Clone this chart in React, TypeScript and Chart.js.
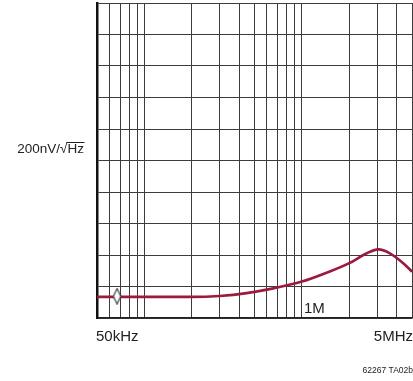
import React, { useEffect, useRef } from "react";
import { Chart, registerables } from "chart.js";

Chart.register(...registerables);

// Frequencies (Hz) and noise density (nV/√Hz)
const FREQ = [50e3, 100e3, 150e3, 200e3, 300e3, 446e3, 658e3, 1e6, 1.44e6, 2e6, 2.58e6, 3.06e6, 3.62e6, 4.4e6, 5e6];
const NOISE = [134, 134, 134, 134, 140, 158, 188, 231, 288, 348, 411, 436, 411, 348, 294];

// Marker (diamond) position
const MARKER_FREQ = [67e3];
const MARKER_NOISE = [138];

// Grid lines
const X_GRID = [
  50e3, 60e3, 70e3, 80e3, 90e3,
  100e3, 200e3, 300e3, 400e3, 500e3, 600e3, 700e3, 800e3, 900e3,
  1e6, 2e6, 3e6, 4e6, 5e6,
];
const Y_GRID = [0, 200, 400, 600, 800, 1000, 1200, 1400, 1600, 1800, 2000];

// Labels
const X_LABEL_LEFT = "50kHz";
const X_LABEL_RIGHT = "5MHz";
const X_LABEL_MID = "1M";
const X_LABEL_MID_VALUE = 1e6;
const Y_LABEL_MAIN = "200nV/√";
const Y_LABEL_ROOT = "Hz";
const FOOTNOTE = "62267 TA02b";

const FONT = '"Liberation Sans", Arial, sans-serif';

export default function App() {
  const ref = useRef<HTMLCanvasElement | null>(null);

  useEffect(() => {
    const canvas = ref.current;
    if (!canvas) return;

    const diamond = document.createElement("canvas");
    diamond.width = 9;
    diamond.height = 17;
    const dctx = diamond.getContext("2d")!;
    dctx.beginPath();
    dctx.moveTo(4.5, 0.8);
    dctx.lineTo(8.2, 8.5);
    dctx.lineTo(4.5, 16.2);
    dctx.lineTo(0.8, 8.5);
    dctx.closePath();
    dctx.fillStyle = "#ffffff";
    dctx.fill();
    dctx.strokeStyle = "#333333";
    dctx.lineWidth = 1.1;
    dctx.stroke();

    const textPlugin = {
      id: "texts",
      afterDraw(chart: any) {
        const ctx = chart.ctx;
        const xs = chart.scales.x;
        ctx.save();
        ctx.fillStyle = "#222";
        ctx.textBaseline = "alphabetic";

        // x labels
        ctx.font = `15px ${FONT}`;
        ctx.textAlign = "left";
        ctx.fillText(X_LABEL_LEFT, xs.getPixelForValue(FREQ[0]) - 1, 341);
        ctx.textAlign = "right";
        ctx.fillText(X_LABEL_RIGHT, xs.getPixelForValue(FREQ[FREQ.length - 1]) + 1, 341);

        // 1M label inside
        ctx.textAlign = "left";
        ctx.fillText(X_LABEL_MID, xs.getPixelForValue(X_LABEL_MID_VALUE) + 2, 313);

        // y label
        ctx.font = `13.5px ${FONT}`;
        const mainW = ctx.measureText(Y_LABEL_MAIN).width;
        const rootW = ctx.measureText(Y_LABEL_ROOT).width;
        const rx = 84;
        const lx = rx - mainW - rootW;
        const ly = 153;
        ctx.textAlign = "left";
        ctx.fillText(Y_LABEL_MAIN, lx, ly);
        ctx.fillText(Y_LABEL_ROOT, lx + mainW, ly);
        ctx.strokeStyle = "#222";
        ctx.lineWidth = 1;
        ctx.beginPath();
        ctx.moveTo(lx + mainW - 1, ly - 10.5);
        ctx.lineTo(lx + mainW + rootW + 0.5, ly - 10.5);
        ctx.stroke();

        // footnote
        ctx.font = `8.5px ${FONT}`;
        ctx.textAlign = "right";
        ctx.fillText(FOOTNOTE, 413, 373);
        ctx.restore();
      },
    };

    const chart = new Chart(canvas, {
      type: "line",
      data: {
        datasets: [
          {
            data: MARKER_FREQ.map((f, i) => ({ x: f, y: MARKER_NOISE[i] })),
            showLine: false,
            pointStyle: diamond as any,
            pointRadius: 6,
            borderWidth: 0,
          },
          {
            data: FREQ.map((f, i) => ({ x: f, y: NOISE[i] })),
            borderColor: "#9b1a3e",
            borderWidth: 2.6,
            pointRadius: 0,
            cubicInterpolationMode: "monotone",
            fill: false,
          },
        ],
      },
      options: {
        animation: false,
        responsive: false,
        events: [],
        layout: { autoPadding: false, padding: { left: 97, top: 3, right: 1, bottom: 63 } },
        plugins: { legend: { display: false }, tooltip: { enabled: false } },
        scales: {
          x: {
            type: "logarithmic",
            min: FREQ[0],
            max: FREQ[FREQ.length - 1],
            afterBuildTicks: (s: any) => {
              s.ticks = X_GRID.map((v) => ({ value: v }));
            },
            ticks: { display: false },
            grid: { color: "#3c3c3c", lineWidth: 1, drawTicks: false },
            border: { color: "#222", width: 1.5 },
          },
          y: {
            type: "linear",
            min: Y_GRID[0],
            max: Y_GRID[Y_GRID.length - 1],
            afterBuildTicks: (s: any) => {
              s.ticks = Y_GRID.map((v) => ({ value: v }));
            },
            ticks: { display: false },
            grid: { color: "#3c3c3c", lineWidth: 1, drawTicks: false },
            border: { color: "#111", width: 2.5 },
          },
        },
      },
      plugins: [textPlugin],
    });

    return () => chart.destroy();
  }, []);

  return (
    <div style={{ position: "absolute", left: 0, top: 0, width: 413, height: 381, background: "#fff" }}>
      <canvas ref={ref} width={413} height={381} />
    </div>
  );
}
